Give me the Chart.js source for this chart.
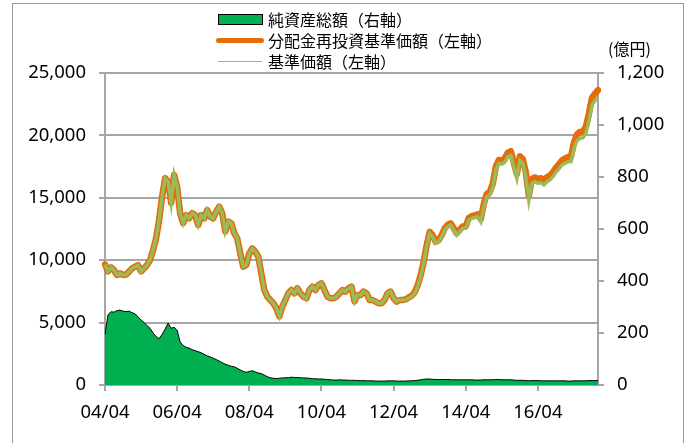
<!DOCTYPE html>
<html>
<head>
<meta charset="utf-8">
<script src="https://cdn.jsdelivr.net/npm/chart.js@4"></script>
<style>
  html, body { margin: 0; padding: 0; background: #fff; }
  #wrap { position: relative; width: 688px; height: 443px; overflow: hidden; }
  #frame { position: absolute; left: 12px; top: 3px; width: 672px; height: 460px; border: 1px solid #999; box-sizing: border-box; }
  #c { position: absolute; left: 0; top: 0; }
  .lg { position: absolute; font-family: "Noto Sans CJK JP", sans-serif; font-size: 16px; line-height: 20px; color: #000; white-space: nowrap; }
  .sw { position: absolute; }
</style>
</head>
<body>
<div id="wrap">
  <div id="frame"></div>
  <canvas id="c" width="688" height="443"></canvas>
  <div class="sw" style="left:218px;top:14px;width:43px;height:9px;background:#00B050;border:1px solid #000;"></div>
  <div class="sw" style="left:216px;top:38px;width:48px;height:5px;background:#E46C0A;border-radius:3px;"></div>
  <div class="sw" style="left:218px;top:61px;width:44px;height:1px;background:#9BBB59;"></div>
  <div class="lg" id="l1" style="left:268px;top:9px;"></div>
  <div class="lg" id="l2" style="left:268px;top:30px;"></div>
  <div class="lg" id="l3" style="left:268px;top:51px;"></div>
  <div class="lg" id="unit" style="left:608px;top:38px;"></div>
</div>
<script>
// ---- data ----
const seriesNames = ['純資産総額（右軸）', '分配金再投資基準価額（左軸）', '基準価額（左軸）'];
const rightUnit = '(億円)';
const xTickLabels = ['04/04', '06/04', '08/04', '10/04', '12/04', '14/04', '16/04'];
const leftTicks = [0, 5000, 10000, 15000, 20000, 25000];
const rightTicks = [0, 200, 400, 600, 800, 1000, 1200];

// monthly, 2004/04 .. 2017/12
const basePrice = [
  9650, 9100, 9430, 9200, 8820, 8950, 8820, 8850, 9080, 9350,
  9480, 9600, 9100, 9350, 9620, 10020, 10820, 11750, 13220, 15090,
  16560, 16300, 14600, 16830, 15890, 13760, 12960, 13620, 13360, 13760,
  13620, 12820, 13620, 13360, 14020, 13490, 13360, 13890, 14290, 13760,
  12300, 13090, 12960, 12160, 11750, 10550, 9480, 9620, 10550, 10950,
  10680, 10280, 8950, 7610, 7080, 6810, 6550, 6150, 5500, 6280,
  6810, 7350, 7610, 7350, 7750, 7350, 7080, 6950, 7610, 7880,
  7610, 8010, 8150, 7610, 7080, 6950, 6950, 7080, 7350, 7610,
  7480, 7750, 7880, 6700, 7210, 7210, 7480, 7350, 6810, 6810,
  6680, 6550, 6550, 6810, 7350, 7480, 6950, 6680, 6810, 6810,
  6810, 6950, 7080, 7350, 7880, 8680, 9750, 11080, 12150, 11880,
  11350, 11480, 11880, 12420, 12690, 12820, 12420, 12020, 12290, 12560,
  12560, 13220, 13360, 13420, 13490, 13090, 14290, 15090, 15225, 15890,
  17230, 17760, 17700, 17850, 18300, 18400, 17490, 16560, 18000, 17760,
  16690, 14800, 16160, 16290, 16160, 16230, 16030, 16290, 16430, 16690,
  17040, 17310, 17630, 17760, 17890, 17890, 18960, 19580, 19770, 19820,
  20170, 21230, 22440, 22780, 23050
];
const reinvestPrice = [
  9650, 9100, 9430, 9200, 8820, 8950, 8820, 8850, 9080, 9350,
  9480, 9600, 9100, 9350, 9620, 10020, 10820, 11750, 13220, 15090,
  16560, 16300, 14600, 16830, 15890, 13760, 12960, 13620, 13360, 13760,
  13620, 12820, 13620, 13360, 14020, 13490, 13360, 13890, 14290, 13760,
  12300, 13090, 12960, 12160, 11750, 10550, 9480, 9620, 10550, 10950,
  10680, 10280, 8950, 7610, 7080, 6810, 6550, 6150, 5500, 6280,
  6810, 7350, 7610, 7350, 7750, 7350, 7080, 6950, 7610, 7880,
  7610, 8010, 8150, 7610, 7080, 6950, 6950, 7080, 7350, 7610,
  7480, 7750, 7880, 6700, 7210, 7210, 7480, 7350, 6810, 6810,
  6680, 6550, 6550, 6810, 7350, 7480, 6950, 6680, 6810, 6810,
  6860, 7010, 7150, 7430, 7970, 8780, 9850, 11190, 12270, 12000,
  11470, 11605, 12010, 12550, 12825, 12955, 12560, 12160, 12435, 12710,
  12710, 13380, 13530, 13600, 13680, 13290, 14500, 15310, 15455, 16130,
  17480, 18030, 17990, 18160, 18620, 18730, 17820, 16890, 18335, 18095,
  17030, 15140, 16500, 16635, 16505, 16575, 16380, 16640, 16780, 17045,
  17400, 17675, 18000, 18135, 18270, 18280, 19410, 20080, 20290, 20350,
  20710, 21780, 23000, 23350, 23630
];
const netAssets = [
  195, 270, 282, 280, 286, 288, 284, 282, 284, 278,
  274, 262, 250, 240, 228, 218, 200, 186, 178, 195,
  215, 238, 218, 222, 210, 165, 152, 145, 142, 136,
  132, 128, 124, 118, 112, 108, 103, 98, 92, 86,
  80, 76, 72, 70, 64, 58, 52, 49, 52, 55,
  50, 46, 44, 38, 32, 28, 26, 25, 26, 27,
  28, 28, 30, 29, 29, 28, 27, 27, 26, 24,
  24, 23, 23, 22, 21, 20, 19, 19, 20, 19,
  19, 18, 18, 18, 17, 17, 17, 16, 16, 16,
  15, 15, 15, 15, 16, 16, 16, 15, 15, 15,
  15, 16, 16, 17, 18, 20, 22, 23, 23, 22,
  21, 21, 21, 21, 21, 20, 20, 20, 20, 20,
  20, 20, 20, 19, 19, 19, 20, 20, 20, 20,
  21, 21, 20, 20, 20, 20, 19, 18, 18, 18,
  17, 16, 17, 17, 17, 16, 16, 16, 16, 16,
  16, 16, 16, 16, 15, 15, 16, 16, 16, 16,
  16, 17, 17, 17, 17
];
// month categories 2004/04 .. 2017/12
const months = [];
for (let y = 2004, m = 4; months.length < basePrice.length; ) {
  months.push(String(y % 100).padStart(2, '0') + '/' + String(m).padStart(2, '0'));
  m++; if (m > 12) { m = 1; y++; }
}

// ---- legend text ----
document.getElementById('l1').textContent = seriesNames[0];
document.getElementById('l2').textContent = seriesNames[1];
document.getElementById('l3').textContent = seriesNames[2];
document.getElementById('unit').textContent = rightUnit;

const GRID = '#A6A6A6';
const tickFont = { family: '"Noto Sans", sans-serif', size: 18.5 };

new Chart(document.getElementById('c'), {
  type: 'line',
  data: {
    labels: months,
    datasets: [
      {
        label: seriesNames[2], data: basePrice, yAxisID: 'y',
        borderColor: '#9BBB59', borderWidth: 3.5, pointRadius: 0, tension: 0, order: 0, fill: false
      },
      {
        label: seriesNames[1], data: reinvestPrice, yAxisID: 'y',
        borderColor: '#E46C0A', borderWidth: 6.5, pointRadius: 0, tension: 0, order: 1, fill: false,
        borderJoinStyle: 'round', borderCapStyle: 'round'
      },
      {
        label: seriesNames[0], data: netAssets, yAxisID: 'y1',
        borderColor: '#000', borderWidth: 1, backgroundColor: '#00B050', pointRadius: 0, tension: 0, order: 2,
        fill: 'origin'
      }
    ]
  },
  options: {
    responsive: false,
    animation: false,
    layout: { padding: { top: 73, left: 0, right: 0, bottom: 0 } },
    plugins: { legend: { display: false }, tooltip: { enabled: false } },
    scales: {
      x: {
        type: 'category',
        offset: false,
        afterFit: s => { s.height = 58; },
        afterBuildTicks: s => { s.ticks = s.ticks.filter(t => t.value % 24 === 0); },
        ticks: {
          autoSkip: false, maxRotation: 0, minRotation: 0, padding: 11,
          color: '#000', font: tickFont,
          callback: (v) => xTickLabels[v / 24]
        },
        grid: { drawOnChartArea: false, drawTicks: true, tickLength: 6, color: GRID, lineWidth: 2 },
        border: { color: GRID, width: 2 }
      },
      y: {
        position: 'left', min: 0, max: 25000,
        afterFit: s => { s.width = 105; },
        afterBuildTicks: s => { s.ticks = leftTicks.map(v => ({ value: v })); },
        ticks: {
          padding: 13, color: '#000', font: tickFont,
          callback: v => v.toLocaleString('en-US')
        },
        grid: { color: GRID, lineWidth: 2, tickLength: 6 },
        border: { color: GRID, width: 2 }
      },
      y1: {
        position: 'right', min: 0, max: 1200,
        afterFit: s => { s.width = 90; },
        afterBuildTicks: s => { s.ticks = rightTicks.map(v => ({ value: v })); },
        ticks: {
          padding: 13, color: '#000', font: tickFont,
          callback: v => v.toLocaleString('en-US')
        },
        grid: { drawOnChartArea: false, color: GRID, lineWidth: 2, tickLength: 6 },
        border: { color: GRID, width: 2 }
      }
    }
  }
});
</script>
</body>
</html>
